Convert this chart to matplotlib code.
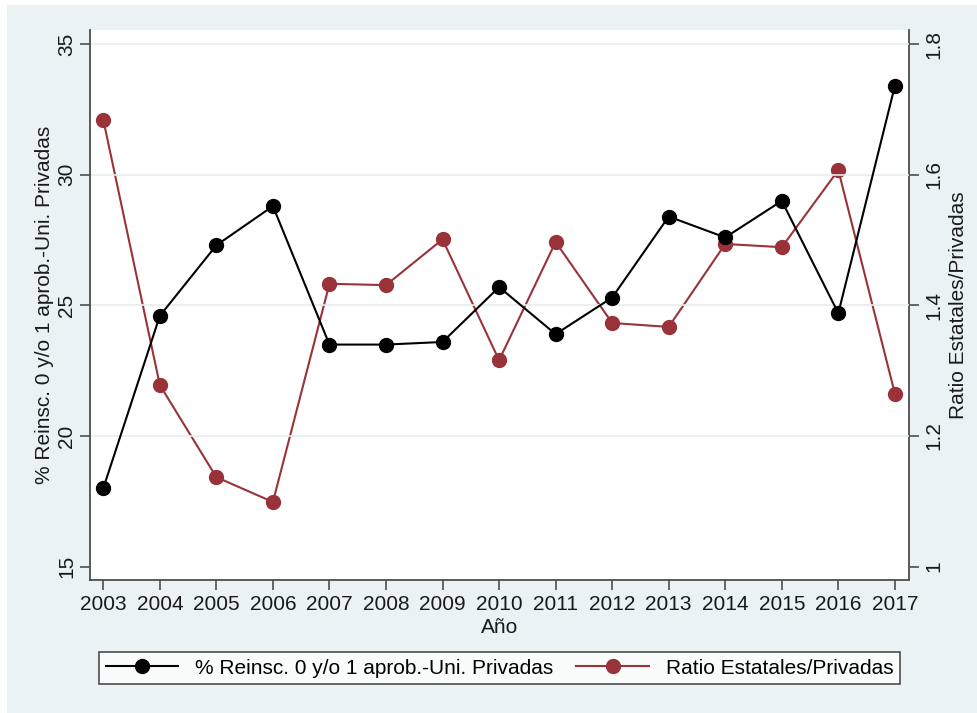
import matplotlib
matplotlib.use("Agg")
import matplotlib.pyplot as plt
from matplotlib.patches import Rectangle

plt.rcParams['font.family'] = ['Liberation Sans', 'DejaVu Sans']

# Data.
years = [2003, 2004, 2005, 2006, 2007, 2008, 2009, 2010,
         2011, 2012, 2013, 2014, 2015, 2016, 2017]
reinsc_privadas = [18.0, 24.6, 27.3, 28.8, 23.5, 23.5, 23.6, 25.7,
                   23.9, 25.3, 28.4, 27.6, 29.0, 24.7, 33.4]
ratio_est_priv = [1.684, 1.278, 1.137, 1.099, 1.433, 1.431, 1.501, 1.316,
                  1.497, 1.373, 1.367, 1.494, 1.489, 1.607, 1.265]
left_ticks = [15, 20, 25, 30, 35]
right_ticks = [1, 1.2, 1.4, 1.6, 1.8]
right_ticklabels = ['1', '1.2', '1.4', '1.6', '1.8']

label_left = '% Reinsc. 0 y/o 1 aprob.-Uni. Privadas'
label_right = 'Ratio Estatales/Privadas'

bg = '#EAF2F3'
maroon = '#9A3239'
axcol = '#4d4d4d'
txt = '#1a1a1a'
fs = 15

fig = plt.figure(figsize=(9.78, 7.13), dpi=100)
fig.patch.set_facecolor('white')
fig.patches.append(Rectangle((7 / 978, 0), 1, 1 - 5 / 713, transform=fig.transFigure,
                             facecolor=bg, edgecolor='none', zorder=-10))

ax = fig.add_axes([90 / 978, 1 - 580 / 713, (909 - 90) / 978, (580 - 30) / 713])
ax2 = ax.twinx()

# Grid lines (Stata style, not at the bottom tick).
for g in left_ticks[1:]:
    ax.axhline(g, color='#e6ecec', lw=1.2, zorder=0)

l1, = ax.plot(years, reinsc_privadas, color='black', lw=1.5, marker='o',
              markersize=10, label=label_left, zorder=3)
l2, = ax2.plot(years, ratio_est_priv, color=maroon, lw=1.5, marker='o',
               markersize=10, label=label_right, zorder=3)

ax.set_xlim(2002.765, 2017.25)
ax.set_ylim(14.49, 35.54)
ax2.set_ylim(0.9796, 1.8215)

ax.set_xticks(years)
ax.set_xticklabels([str(y) for y in years])
ax.set_yticks(left_ticks)
ax.set_yticklabels([str(t) for t in left_ticks], rotation=90, va='center')
ax2.set_yticks(right_ticks)
ax2.set_yticklabels(right_ticklabels, rotation=90, va='center')

for a in (ax, ax2):
    a.tick_params(axis='both', labelsize=fs, colors=axcol, labelcolor=txt,
                  length=7, width=1.2, direction='out', pad=4)
    a.spines['top'].set_visible(False)
    for s in ('left', 'right', 'bottom'):
        a.spines[s].set_color(axcol)
        a.spines[s].set_linewidth(1.3)
ax.tick_params(axis='y', pad=3)
ax.spines['right'].set_visible(False)
ax2.spines['left'].set_visible(False)
ax2.spines['bottom'].set_visible(False)

ax.set_xlabel('Año', fontsize=fs, color=txt, labelpad=3)
ax.set_ylabel(label_left, fontsize=fs, color=txt, labelpad=2)
ax2.set_ylabel(label_right, fontsize=fs, color=txt, labelpad=4)

# twinx hides the second patch; show it as the white plot region underneath
ax.set_zorder(ax2.get_zorder() + 1)
ax.patch.set_visible(False)
ax2.patch.set_visible(True)
ax2.patch.set_facecolor('white')

leg = fig.legend(handles=[l1, l2], loc='center', ncol=2,
                 bbox_to_anchor=(499.5 / 978, 1 - 668 / 713),
                 fontsize=fs, frameon=True, fancybox=False, handlelength=3.5,
                 columnspacing=1.1, borderpad=0.3, handletextpad=0.8)
leg.get_frame().set_edgecolor('#222222')
leg.get_frame().set_linewidth(1.2)
leg.get_frame().set_facecolor('white')

fig.savefig('out.png', dpi=100, facecolor=fig.get_facecolor())
